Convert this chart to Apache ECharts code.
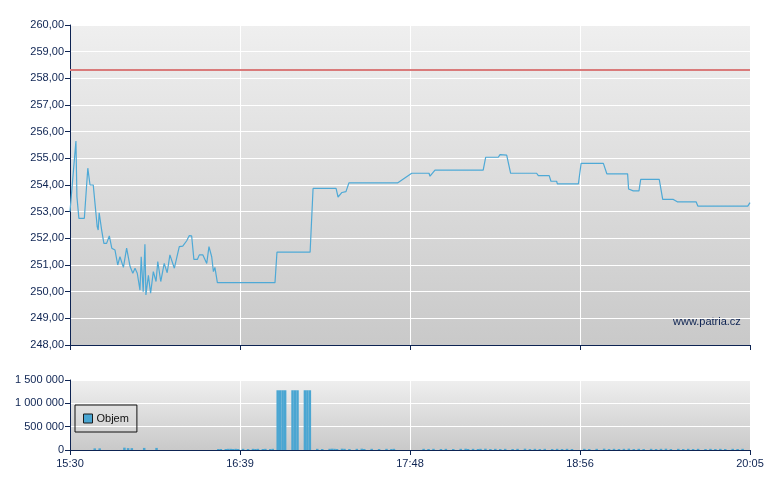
<!DOCTYPE html>
<html>
<head>
<meta charset="utf-8">
<script src="https://cdn.jsdelivr.net/npm/echarts@6.0.0/dist/echarts.min.js"></script>
<style>
html,body{margin:0;padding:0;background:#fff;}
#chart{width:780px;height:490px;}
</style>
</head>
<body>
<div id="chart"></div>
<script>
// minutes after 15:30
var priceTimes = [0, 2.4, 2.8, 3.6, 5.8, 7.2, 8.1, 9.4, 9.8, 11.0, 11.4, 11.8, 12.8, 13.7, 14.8, 15.9, 16.9, 18.2, 19.3, 20.2,
  21.6, 22.9, 24.3, 25.4, 26.3, 27.2, 28.3, 28.8, 29.6, 30.3, 30.7, 31.7, 32.6, 33.7, 34.8, 35.5, 36.7, 38.1, 39.3, 40.4,
  42.2, 44.2, 45.6, 47.2, 48.2, 49.2, 50.1, 51.5, 52.3, 53.7, 55.3, 56.2, 57.3, 58.0, 58.6, 59.6, 82.9, 83.7, 97.1, 98.3,
  107.6, 108.4, 110.0, 111.6, 112.8, 132.6, 138.2, 145.2, 145.6, 147.6, 167.1, 168.1, 173.2, 173.9, 176.6, 178.2, 188.7, 189.4, 193.8, 194.5,
  196.8, 197.1, 205.6, 206.7, 215.7, 217.1, 225.5, 225.9, 227.8, 230.1, 230.8, 238.3, 239.7, 244.0, 245.6, 253.2, 253.9, 274.1, 275];
var priceValues = [253.0, 255.65, 253.56, 252.75, 252.75, 254.63, 254.0, 254.0, 254.05, 252.44, 252.31, 252.96, 252.31, 251.81, 251.81, 252.09, 251.63, 251.56, 251.0, 251.31,
  250.91, 251.63, 250.94, 250.69, 250.88, 250.69, 250.06, 251.31, 250.0, 251.78, 249.88, 250.61, 249.94, 250.75, 250.38, 251.13, 250.38, 251.06, 250.71, 251.38,
  250.88, 251.69, 251.71, 251.91, 252.1, 252.09, 251.21, 251.21, 251.38, 251.38, 251.06, 251.69, 251.31, 250.75, 250.91, 250.34, 250.34, 251.48, 251.48, 253.87,
  253.87, 253.55, 253.72, 253.75, 254.08, 254.08, 254.44, 254.44, 254.33, 254.56, 254.56, 255.04, 255.04, 255.14, 255.12, 254.44, 254.44, 254.35, 254.35, 254.14,
  254.14, 254.04, 254.04, 254.81, 254.81, 254.42, 254.42, 253.85, 253.78, 253.78, 254.21, 254.21, 253.46, 253.46, 253.37, 253.37, 253.21, 253.21, 253.34];
var prevClose = 258.31;

var volTimes = [10, 12, 22, 23.5, 25, 30, 35, 60, 61, 63, 64, 65, 66, 67, 68, 70, 72, 74, 75, 76, 78, 79, 81, 82,
  84, 85, 86, 87, 90, 91, 92, 95, 96, 97,
  100, 102, 105, 106, 107, 108, 110, 111, 113, 116, 118, 119, 122, 125, 128, 130, 131,
  143, 145, 147, 150, 152, 155, 158, 160, 161, 163, 165, 166, 168, 170, 172, 174, 176, 179, 181, 184, 186, 188, 190, 192, 195, 197, 199, 201, 203,
  208, 210, 213, 216, 218, 220, 222, 224, 226, 228, 230, 232, 235, 237, 239, 241, 243, 246, 248, 250, 252, 254, 257, 259, 261, 263, 265, 268, 270, 272];
var volValues = [35000, 35000, 50000, 40000, 40000, 45000, 45000, 22000, 22000, 22000, 25000, 25000, 22000, 25000, 22000, 25000, 22000, 25000, 22000, 25000, 22000, 25000, 22000, 25000,
  1280000, 1280000, 1280000, 1280000, 1280000, 1280000, 1280000, 1280000, 1280000, 1280000,
  25000, 22000, 25000, 28000, 25000, 22000, 28000, 25000, 22000, 25000, 28000, 22000, 25000, 22000, 25000, 22000, 25000,
  25000, 22000, 25000, 22000, 25000, 22000, 25000, 28000, 22000, 25000, 22000, 25000, 28000, 22000, 25000, 22000, 25000, 22000, 25000, 28000, 22000, 25000, 22000, 25000, 22000, 25000, 22000, 25000, 22000,
  25000, 22000, 25000, 28000, 22000, 25000, 22000, 25000, 28000, 22000, 25000, 22000, 25000, 22000, 25000, 28000, 22000, 25000, 22000, 25000, 22000, 25000, 22000, 25000, 22000, 25000, 22000, 25000, 22000, 25000];

var xTickLabels = ['15:30', '16:39', '17:48', '18:56', '20:05'];
var xMax = 275, xInterval = 68.75;

var navy = '#0d2352';
var font = 'Liberation Sans';

function bg() {
  return new echarts.graphic.LinearGradient(0, 0, 0, 1, [
    {offset: 0, color: '#efefef'}, {offset: 1, color: '#c9c9c9'}
  ]);
}
function fmtTime(v) {
  var i = Math.round(v / xInterval);
  return xTickLabels[i] || '';
}
function fmtPrice(v) { return v.toFixed(2).replace('.', ','); }
function fmtVol(v) { return String(Math.round(v)).replace(/\B(?=(\d{3})+(?!\d))/g, ' '); }

var chart = echarts.init(document.getElementById('chart'), null, {renderer: 'canvas'});
var pricePairs = priceTimes.map(function (t, i) { return [t, priceValues[i]]; });
var volPairs = volTimes.map(function (t, i) { return [t, volValues[i]]; });

var axisCommon = {
  axisLine: {show: true, lineStyle: {color: navy, width: 1}},
  axisTick: {show: true, length: 5, lineStyle: {color: navy}},
  splitLine: {show: true, lineStyle: {color: '#ffffff', width: 1}}
};

chart.setOption({
  animation: false,
  backgroundColor: '#ffffff',
  textStyle: {fontFamily: font},
  grid: [
    {left: 70, top: 25, width: 680, height: 320, show: true, borderWidth: 0, backgroundColor: bg()},
    {left: 70, top: 380, width: 680, height: 70, show: true, borderWidth: 0, backgroundColor: bg()}
  ],
  legend: {
    data: ['Objem'], left: 75, top: 405, orient: 'vertical',
    padding: [8, 8, 8, 8], borderColor: '#111', borderWidth: 1, backgroundColor: 'transparent',
    icon: 'rect', itemWidth: 9, itemHeight: 9, itemGap: 4,
    itemStyle: {borderColor: '#1a1a1a', borderWidth: 1},
    textStyle: {color: '#111', fontSize: 11, fontFamily: font, padding: [0, 0, 0, -1]}
  },
  xAxis: [
    Object.assign({}, axisCommon, {type: 'value', gridIndex: 0, min: 0, max: xMax, interval: xInterval,
      axisLabel: {show: false}}),
    Object.assign({}, axisCommon, {type: 'value', gridIndex: 1, min: 0, max: xMax, interval: xInterval,
      axisLabel: {show: true, color: navy, fontSize: 11, fontFamily: font, margin: 8, formatter: fmtTime}})
  ],
  yAxis: [
    Object.assign({}, axisCommon, {type: 'value', gridIndex: 0, min: 248, max: 260, interval: 1,
      axisLabel: {color: navy, fontSize: 11, fontFamily: font, margin: 6, formatter: fmtPrice}}),
    Object.assign({}, axisCommon, {type: 'value', gridIndex: 1, min: 0, max: 1500000, interval: 500000,
      axisLabel: {color: navy, fontSize: 11, fontFamily: font, margin: 6, formatter: fmtVol}})
  ],
  series: [
    {
      name: 'Cena', type: 'line', xAxisIndex: 0, yAxisIndex: 0, data: pricePairs,
      showSymbol: false, symbol: 'none', lineStyle: {color: '#4ea9d6', width: 1.2}, itemStyle: {color: '#4ea9d6'},
      markLine: {
        silent: true, symbol: ['none', 'none'], label: {show: false},
        lineStyle: {color: '#d97a7a', width: 2, type: 'solid'},
        data: [{yAxis: prevClose}]
      }
    },
    {
      name: 'Objem', type: 'bar', xAxisIndex: 1, yAxisIndex: 1, data: volPairs,
      barWidth: 2.5, itemStyle: {color: '#4aa6d2'}
    }
  ],
  graphic: [
    {type: 'text', left: 673, top: 316, silent: true,
      style: {text: 'www.patria.cz', fill: navy, font: '11px "Liberation Sans"'}}
  ]
});
</script>
</body>
</html>
